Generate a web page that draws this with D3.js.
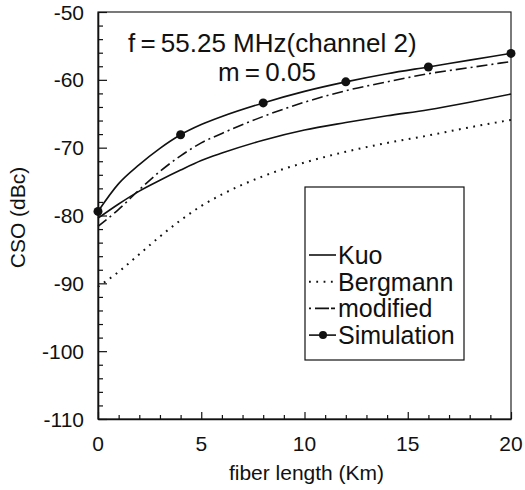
<!DOCTYPE html>
<html>
<head>
<meta charset="utf-8">
<script src="https://cdn.jsdelivr.net/npm/d3@7"></script>
<style>
  body { margin: 0; background: #fff; }
  text { font-family: "Liberation Sans", Arial, sans-serif; fill: #111; }
</style>
</head>
<body>
<div id="chart"></div>
<script>
// data
const lengthKm = [0, 1, 2, 3, 4, 5, 6, 8, 10, 12, 14, 16, 18, 20];
const kuo       = [-80.4, -78.3, -76.4, -74.8, -73.3, -71.9, -70.8, -68.9, -67.4, -66.3, -65.3, -64.4, -63.3, -62.1];
const bergmann  = [-90.5, -88.3, -85.7, -83.1, -80.7, -78.6, -76.9, -74.2, -72.2, -70.6, -69.3, -68.2, -67.0, -65.9];
const modified  = [-81.6, -79.1, -76.2, -73.5, -71.2, -69.3, -67.9, -65.4, -63.3, -61.6, -60.3, -59.1, -58.2, -57.3];
const simCurve  = [-79.4, -75.3, -72.5, -70.1, -68.1, -66.6, -65.4, -63.4, -61.7, -60.3, -59.1, -58.1, -57.1, -56.1];
const simKm     = [0, 4, 8, 12, 16, 20];
const simPoints = [-79.4, -68.1, -63.4, -60.3, -58.1, -56.1];
const xTicks = [0, 5, 10, 15, 20];
const yTicks = [-110, -100, -90, -80, -70, -60, -50];
const legendNames = ["Kuo", "Bergmann", "modified", "Simulation"];

const width = 525, height = 490;
const margin = {left: 98, top: 12, right: 14, bottom: 71};
const w = width - margin.left - margin.right,
    h = height - margin.top - margin.bottom;

const svg = d3.select("#chart").append("svg")
    .attr("width", width)
    .attr("height", height);

const g = svg.append("g")
    .attr("transform", `translate(${margin.left},${margin.top})`);

const x = d3.scaleLinear().domain([0, 20]).range([0, w]);
const y = d3.scaleLinear().domain([-110, -50]).range([h, 0]);

// frame
g.append("rect")
    .attr("width", w).attr("height", h)
    .attr("fill", "none").attr("stroke", "#222").attr("stroke-width", 1.2);

// left axis, ticks pointing inward
const yAxis = g.append("g")
    .call(d3.axisLeft(y).tickValues(d3.range(-110, -49, 2)).tickSize(0).tickFormat(""));
yAxis.select(".domain").attr("stroke", "#111").attr("stroke-width", 1.6);
yAxis.selectAll(".tick line").remove();
yAxis.selectAll(".tick").append("line")
    .attr("x2", d => d % 10 === 0 ? 9 : 5)
    .attr("stroke", "#111").attr("stroke-width", 1.2);
g.selectAll(".ylab").data(yTicks).join("text")
    .attr("class", "ylab")
    .attr("x", -14).attr("y", d => y(d))
    .attr("dy", "0.36em")
    .attr("text-anchor", "end")
    .attr("font-size", 21)
    .text(d => d);

// bottom axis
const xAxis = g.append("g")
    .attr("transform", `translate(0,${h})`)
    .call(d3.axisBottom(x).tickValues(d3.range(0, 21, 1)).tickSize(0).tickFormat(""));
xAxis.select(".domain").attr("stroke", "#111").attr("stroke-width", 1.6);
xAxis.selectAll(".tick line").remove();
xAxis.selectAll(".tick").append("line")
    .attr("y2", d => d % 5 === 0 ? -7 : -4)
    .attr("stroke", "#111").attr("stroke-width", 1.2);
g.selectAll(".xlab").data(xTicks).join("text")
    .attr("class", "xlab")
    .attr("x", d => x(d)).attr("y", h + 24)
    .attr("dy", "0.36em")
    .attr("text-anchor", "middle")
    .attr("font-size", 21)
    .text(d => d);

// axis titles
svg.append("text")
    .attr("x", margin.left + w / 2 + 2).attr("y", 480)
    .attr("text-anchor", "middle").attr("font-size", 21)
    .text("fiber length (Km)");
svg.append("text")
    .attr("transform", `translate(25,${margin.top + h / 2 + 2}) rotate(-90)`)
    .attr("text-anchor", "middle").attr("font-size", 21)
    .text("CSO (dBc)");

// curves
const line = vals => d3.line()
    .x((d, i) => x(lengthKm[i]))
    .y(d => y(d))
    .curve(d3.curveMonotoneX)(vals);

const styles = [
  {vals: kuo, dash: null, width: 1.6},
  {vals: bergmann, dash: "1.8,5.5", width: 2},
  {vals: modified, dash: "11,4,2,4", width: 1.6},
  {vals: simCurve, dash: null, width: 1.6}
];

g.selectAll(".curve").data(styles).join("path")
    .attr("class", "curve")
    .attr("d", d => line(d.vals))
    .attr("fill", "none")
    .attr("stroke", "#111")
    .attr("stroke-width", d => d.width)
    .attr("stroke-dasharray", d => d.dash);

g.selectAll(".sim").data(simPoints).join("circle")
    .attr("class", "sim")
    .attr("cx", (d, i) => x(simKm[i]))
    .attr("cy", d => y(d))
    .attr("r", 4.5)
    .attr("fill", "#111");

// annotation
svg.append("text")
    .attr("x", 128).attr("y", 52)
    .attr("font-size", 26)
    .text("f\u2009=\u200955.25 MHz(channel 2)");
svg.append("text")
    .attr("x", 218).attr("y", 81)
    .attr("font-size", 26)
    .text("m\u2009=\u20090.05");

// legend
const lg = svg.append("g").attr("transform", "translate(305,187)");
lg.append("rect")
    .attr("width", 159).attr("height", 173)
    .attr("fill", "#fff").attr("stroke", "#111").attr("stroke-width", 1.2);

const rows = lg.selectAll(".row").data(legendNames).join("g")
    .attr("class", "row")
    .attr("transform", (d, i) => `translate(0,${68 + i * 26.7})`);

rows.append("line")
    .attr("x1", 4).attr("x2", 31)
    .attr("stroke", "#111")
    .attr("stroke-width", (d, i) => styles[i].width)
    .attr("stroke-dasharray", (d, i) => i === 2 ? "2,4,14" : styles[i].dash);
rows.filter((d, i) => i === 3).append("circle")
    .attr("cx", 18).attr("r", 4).attr("fill", "#111");
rows.append("text")
    .attr("x", 33).attr("dy", "0.36em")
    .attr("font-size", 25)
    .text(d => d);
</script>
</body>
</html>
